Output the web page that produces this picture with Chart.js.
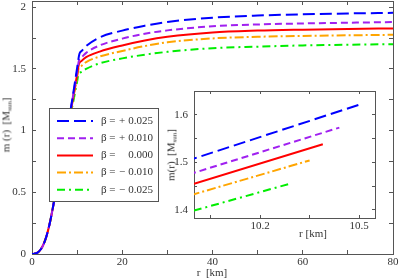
<!DOCTYPE html>
<html>
<head>
<meta charset="utf-8">
<script src="https://cdn.jsdelivr.net/npm/chart.js@4"></script>
<style>
  html, body { margin: 0; padding: 0; background: #fff; }
  #wrap { position: relative; width: 399px; height: 278px; overflow: hidden; font-family: 'Liberation Serif', 'Times New Roman', serif; color: #333; }
  canvas { position: absolute; }
  #main { left: 0; top: 0; }
  #inset { left: 160px; top: 86px; }
  .t { position: absolute; white-space: nowrap; font-size: 11px; line-height: 1; }
  .rot { transform: translate(-50%, -50%) rotate(-90deg); }
  .hc { transform: translate(-50%, -50%); }
  sub { font-size: 7px; vertical-align: -2px; }
</style>
</head>
<body>
<div id="wrap">
  <canvas id="main" width="399" height="278"></canvas>
  <canvas id="inset" width="225" height="150"></canvas>
  <div class="t rot" style="left:7px; top:125px;">m (r)&nbsp;&nbsp;[M<sub>sun</sub>]</div>
  <div class="t hc" style="left:212px; top:272px;">r&nbsp;&nbsp;[km]</div>
  <div class="t rot" style="left:172px; top:155px;">m(r)&nbsp;&nbsp;[M<sub>sun</sub>]</div>
  <div class="t hc" style="left:313px; top:233px;">r [km]</div>
</div>
<script>
// ---- data ----
const betaSigns  = ['+', '+', '', '\u2212', '\u2212'];
const betaValues = ['0.025', '0.010', '0.000', '0.010', '0.025'];

const rBlue   = [0,1,2,3,4,5,6,7,8,9,10,10.5,11,12,15,20,25,30,40,50,60,70,80];
const mBlue   = [0,0.006,0.04,0.12,0.26,0.45,0.66,0.86,1.05,1.27,1.508,1.621,1.645,1.685,1.755,1.81,1.85,1.88,1.915,1.932,1.942,1.949,1.954];
const rPurple = [0,1,2,3,4,5,6,7,8,9,10,10.44,11,12,15,20,25,30,40,50,60,70,80];
const mPurple = [0,0.006,0.04,0.12,0.26,0.45,0.66,0.86,1.05,1.26,1.478,1.573,1.595,1.63,1.69,1.745,1.785,1.812,1.845,1.86,1.868,1.874,1.879];
const rRed    = [0,1,2,3,4,5,6,7,8,9,10,10.39,11,12,15,20,25,30,40,50,60,70,80];
const mRed    = [0,0.006,0.04,0.12,0.26,0.45,0.66,0.86,1.05,1.245,1.455,1.538,1.565,1.595,1.64,1.69,1.73,1.76,1.795,1.81,1.818,1.824,1.828];
const rOrange = [0,1,2,3,4,5,6,7,8,9,10,10.35,11,12,15,20,25,30,40,50,60,70,80];
const mOrange = [0,0.006,0.04,0.12,0.26,0.45,0.66,0.86,1.05,1.235,1.433,1.504,1.525,1.555,1.6,1.645,1.685,1.715,1.747,1.76,1.767,1.772,1.776];
const rGreen  = [0,1,2,3,4,5,6,7,8,9,10,10.29,11,12,15,20,25,30,40,50,60,70,80];
const mGreen  = [0,0.006,0.04,0.12,0.26,0.45,0.66,0.86,1.05,1.21,1.3985,1.455,1.475,1.5,1.545,1.585,1.615,1.638,1.668,1.68,1.69,1.696,1.70];
const surfaceR = [10.5, 10.44, 10.39, 10.35, 10.29];

// ---- ticks ----
const xTicks = [0,10,20,30,40,50,60,70,80];
const xTickLabels = ['0','','20','','40','','60','','80'];
const yTicks = [0,0.25,0.5,0.75,1,1.25,1.5,1.75,2];
const yTickLabels = ['0','','0.5','','1','','1.5','','2'];
const ixTicks = [10.05,10.2,10.35,10.5];
const ixTickLabels = ['','10.2','','10.5'];
const iyTicks = [1.4,1.45,1.5,1.55,1.6];
const iyTickLabels = ['1.4','','1.5','','1.6'];

// ---- styles ----
const colors = ['#0000ff', '#a020f0', '#ff0000', '#ffa500', '#00ee00'];
const dashes = [[12,5], [7,4], [], [9,3,2,3], [8,4,2,4]];
const rs = [rBlue, rPurple, rRed, rOrange, rGreen];
const ms = [mBlue, mPurple, mRed, mOrange, mGreen];

const FONT = { family: "'Liberation Serif', 'Times New Roman', serif", size: 11 };
const AX = '#555';
const TXT = '#333';

function ticksFrom(arr) { return s => { s.ticks = arr.map(v => ({ value: v })); }; }
function labelFrom(vals, labels) { return v => { const i = vals.findIndex(t => Math.abs(t - v) < 1e-9); return i >= 0 ? labels[i] : ''; }; }
function gridOpt(tl) { return { drawOnChartArea: false, drawTicks: true, tickLength: tl, color: AX, lineWidth: 1 }; }
function borderOpt() { return { display: true, color: AX, width: 1 }; }
function fixSize(prop, val) {
  return s => { s[prop] = val; s.paddingLeft = 0; s.paddingRight = 0; s.paddingTop = 0; s.paddingBottom = 0; };
}

const mainSets = rs.map((r, i) => ({
  label: 'beta' + i,
  data: r.map((x, k) => ({ x: x, y: ms[i][k] })),
  borderColor: colors[i], borderDash: dashes[i], borderWidth: 2,
  pointRadius: 0, fill: false, cubicInterpolationMode: 'monotone'
}));

const legendPlugin = {
  id: 'boxLegend',
  afterDraw(chart) {
    const ctx = chart.ctx;
    ctx.save();
    ctx.fillStyle = '#fff';
    ctx.fillRect(49.5, 108.5, 109, 93);
    ctx.strokeStyle = AX; ctx.lineWidth = 1; ctx.setLineDash([]);
    ctx.strokeRect(49.5, 108.5, 109, 93);
    ctx.font = "11px 'Liberation Serif', 'Times New Roman', serif";
    ctx.textBaseline = 'middle';
    for (let i = 0; i < 5; i++) {
      const y = 121 + i * 17.2;
      ctx.strokeStyle = colors[i]; ctx.lineWidth = 2; ctx.setLineDash(dashes[i]);
      ctx.beginPath(); ctx.moveTo(57, y); ctx.lineTo(93, y); ctx.stroke();
      ctx.setLineDash([]);
      ctx.fillStyle = TXT;
      ctx.textAlign = 'left'; ctx.fillText('\u03b2 =', 101, y);
      ctx.textAlign = 'center'; ctx.fillText(betaSigns[i], 122, y);
      ctx.textAlign = 'right'; ctx.fillText(betaValues[i], 153, y);
    }
    ctx.restore();
  }
};

new Chart(document.getElementById('main'), {
  type: 'line',
  data: { datasets: mainSets },
  options: {
    responsive: false, animation: false, devicePixelRatio: 1,
    layout: { padding: { top: 1, right: 6, left: 0, bottom: 0 } },
    plugins: { legend: { display: false }, tooltip: { enabled: false } },
    scales: {
      x: { type: 'linear', position: 'bottom', min: 0, max: 80,
        afterBuildTicks: ticksFrom(xTicks), afterFit: fixSize('height', 24),
        ticks: { callback: labelFrom(xTicks, xTickLabels), font: FONT, color: TXT, padding: 6, maxRotation: 0, autoSkip: false },
        grid: gridOpt(-4), border: borderOpt() },
      x2: { type: 'linear', position: 'top', axis: 'x', min: 0, max: 80,
        afterBuildTicks: ticksFrom(xTicks), afterFit: fixSize('height', 0),
        ticks: { display: false }, grid: gridOpt(-4), border: borderOpt() },
      y: { type: 'linear', position: 'left', min: 0, max: 2.05,
        afterBuildTicks: ticksFrom(yTicks), afterFit: fixSize('width', 32),
        ticks: { callback: labelFrom(yTicks, yTickLabels), font: FONT, color: TXT, padding: 10, autoSkip: false },
        grid: gridOpt(-4), border: borderOpt() },
      y2: { type: 'linear', position: 'right', axis: 'y', min: 0, max: 2.05,
        afterBuildTicks: ticksFrom(yTicks), afterFit: fixSize('width', 0),
        ticks: { display: false }, grid: gridOpt(-4), border: borderOpt() }
    }
  },
  plugins: [legendPlugin]
});

// ---- inset ----
const insetSets = rs.map((r, i) => {
  const pts = [];
  r.forEach((x, k) => { if (x >= 9 && x <= surfaceR[i] + 1e-9) pts.push({ x: x, y: ms[i][k] }); });
  return { label: 'beta' + i, data: pts, borderColor: colors[i], borderDash: dashes[i], borderWidth: 2, pointRadius: 0, fill: false, tension: 0 };
});

const whiteArea = {
  id: 'whiteArea',
  beforeDraw(chart) {
    const a = chart.chartArea, ctx = chart.ctx;
    ctx.save(); ctx.fillStyle = '#fff'; ctx.fillRect(a.left, a.top, a.right - a.left, a.bottom - a.top); ctx.restore();
  }
};

new Chart(document.getElementById('inset'), {
  type: 'line',
  data: { datasets: insetSets },
  options: {
    responsive: false, animation: false, devicePixelRatio: 1,
    layout: { padding: { top: 5, right: 10, left: 0, bottom: 0 } },
    plugins: { legend: { display: false }, tooltip: { enabled: false } },
    scales: {
      x: { type: 'linear', position: 'bottom', min: 10.0, max: 10.548,
        afterBuildTicks: ticksFrom(ixTicks), afterFit: fixSize('height', 18),
        ticks: { callback: labelFrom(ixTicks, ixTickLabels), font: FONT, color: TXT, padding: 5, maxRotation: 0, autoSkip: false },
        grid: gridOpt(-3), border: borderOpt() },
      x2: { type: 'linear', position: 'top', axis: 'x', min: 10.0, max: 10.548,
        afterBuildTicks: ticksFrom(ixTicks), afterFit: fixSize('height', 0),
        ticks: { display: false }, grid: gridOpt(-3), border: borderOpt() },
      y: { type: 'linear', position: 'left', min: 1.383, max: 1.65,
        afterBuildTicks: ticksFrom(iyTicks), afterFit: fixSize('width', 34),
        ticks: { callback: labelFrom(iyTicks, iyTickLabels), font: FONT, color: TXT, padding: 9, autoSkip: false },
        grid: gridOpt(-3), border: borderOpt() },
      y2: { type: 'linear', position: 'right', axis: 'y', min: 1.383, max: 1.65,
        afterBuildTicks: ticksFrom(iyTicks), afterFit: fixSize('width', 0),
        ticks: { display: false }, grid: gridOpt(-3), border: borderOpt() }
    }
  },
  plugins: [whiteArea]
});
</script>
</body>
</html>
